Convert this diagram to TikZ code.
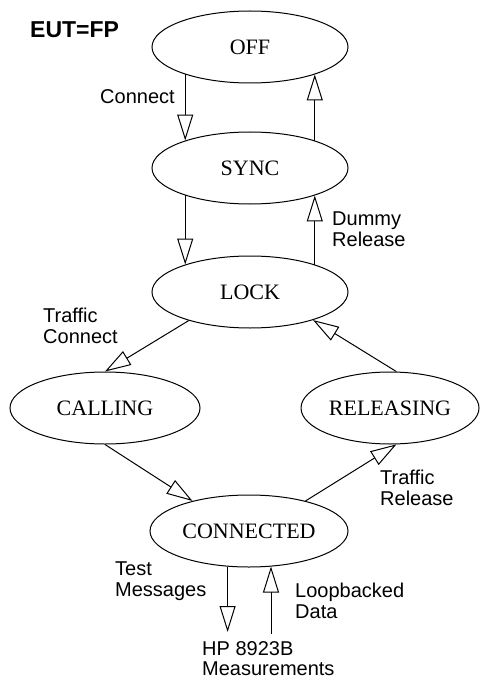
\documentclass[tikz,border=0pt]{standalone}
\usepackage{fontspec}
\setmainfont{Liberation Sans}
\newfontfamily\statefont{Liberation Serif}
\usetikzlibrary{shapes.geometric,arrows.meta}
\begin{document}
\begin{tikzpicture}[x=1pt,y=-1pt,
  state/.style={ellipse, draw, line width=1pt, inner sep=0pt, minimum height=72pt,
    font=\statefont\fontsize{22}{22}\selectfont},
  lbl/.style={align=left, inner sep=0pt, font=\fontsize{20}{21}\selectfont},
  arr/.style={line width=1pt, -{Triangle[open, length=26pt, width=16pt, fill=white]}}]
\useasboundingbox (0,0) rectangle (480,679);

\node[state, minimum width=196pt] (off) at (250,47) {OFF};
\node[state, minimum width=196pt] (sync) at (250,168) {SYNC};
\node[state, minimum width=196pt] (lock) at (250,292) {LOCK};
\node[state, minimum width=190pt] (calling) at (105,408) {CALLING};
\node[state, minimum width=178pt] (releasing) at (390,408) {RELEASING};
\node[state, minimum width=198pt] (connected) at (249,531) {CONNECTED};

\node[lbl, anchor=base west, font=\bfseries\fontsize{23}{23}\selectfont] (eut) at (30,38) {EUT=FP};
\node[lbl, anchor=base west] (lconnect) at (100,104) {Connect};
\node[lbl, anchor=north west] (ldummy) at (332,212) {Dummy\\Release};
\node[lbl, anchor=north west] (ltc) at (43,308) {Traffic\\Connect};
\node[lbl, anchor=north west] (ltr) at (380,470) {Traffic\\Release};
\node[lbl, anchor=north west] (ltest) at (115,562) {Test\\Messages};
\node[lbl, anchor=north west] (lloop) at (295,583) {Loopbacked\\Data};
\node[lbl, anchor=north west, font=\fontsize{20}{20}\selectfont] (hp) at (202,641) {HP 8923B\\Measurements};

\coordinate (tmend) at (228,632);
\coordinate (lbstart) at (271,634);

\draw[arr] (off.203) -- (sync.157);
\draw[arr] (sync.23) -- (off.337);
\draw[arr] (sync.203) -- (lock.157);
\draw[arr] (lock.23) -- (sync.337);
\draw[arr] (lock.205) -- (calling.north);
\draw[arr] (releasing.80) -- (lock.336);
\draw[arr] (calling.south) -- (connected.152);
\draw[arr] (connected.28) -- (releasing.280);
\draw[arr] (connected.239) -- (connected.239 |- tmend);
\draw[arr] (lbstart) -- (lbstart |- connected.303);
\end{tikzpicture}
\end{document}
